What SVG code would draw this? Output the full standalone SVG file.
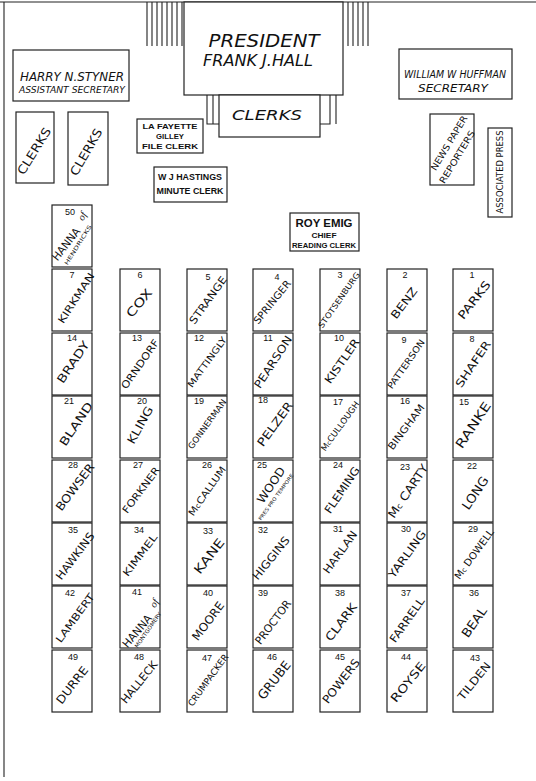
<svg xmlns="http://www.w3.org/2000/svg" width="536" height="781" viewBox="0 0 536 781">
<style>
.bx{fill:#fff;stroke:#222;stroke-width:1.2}
.ln{stroke:#222;stroke-width:1.1;fill:none}
.num{font-family:"Liberation Sans",Arial,sans-serif;font-size:9px;text-anchor:middle;fill:#111}
.nm{font-family:"DejaVu Sans","Liberation Sans",sans-serif;text-anchor:middle;fill:#111}
.it{font-family:"DejaVu Sans","Liberation Sans",sans-serif;font-style:italic;text-anchor:middle;fill:#111}
.lb{font-family:"Liberation Sans",Arial,sans-serif;font-weight:bold;text-anchor:middle;fill:#111}
.sc{font-family:"Liberation Serif",serif;font-style:italic;text-anchor:middle;fill:#111}
</style>
<rect width="536" height="781" fill="#fff"/>
<g id="frame" class="ln">
<line x1="0" y1="2" x2="536" y2="2"/>
<line x1="4" y1="2" x2="4" y2="777"/>
</g>
<g id="stripes" class="ln">
<path d="M147 2V46M152 2V46M157 2V46M162 2V46M167 2V46M172 2V46M177 2V46M182 2V46"/>
<path d="M348 2V46M353 2V46M358 2V46M363 2V46M368 2V46"/>
<path d="M207 95V124H219M213 95V124"/>
<path d="M330 95V124H320M336 95V124"/>
</g>
<g id="president">
<rect class="bx" x="184" y="2" width="159" height="93"/>
<text class="it" x="264" y="47" font-size="17" textLength="111" lengthAdjust="spacingAndGlyphs">PRESIDENT</text>
<text class="it" x="258" y="66" font-size="16" textLength="110" lengthAdjust="spacingAndGlyphs">FRANK J.HALL</text>
</g>
<g id="clerks-center">
<rect class="bx" x="219" y="95" width="101" height="42"/>
<text class="it" x="267" y="120" font-size="14" textLength="70" lengthAdjust="spacingAndGlyphs">CLERKS</text>
</g>
<g id="styner">
<rect class="bx" x="13" y="50" width="116" height="51"/>
<text class="it" x="72" y="81" font-size="12" textLength="104" lengthAdjust="spacingAndGlyphs">HARRY N.STYNER</text>
<text class="it" x="72" y="93" font-size="8.5" textLength="106" lengthAdjust="spacingAndGlyphs">ASSISTANT SECRETARY</text>
</g>
<g id="huffman">
<rect class="bx" x="399" y="49" width="113" height="50"/>
<text class="it" x="455" y="78" font-size="10" textLength="102" lengthAdjust="spacingAndGlyphs">WILLIAM W HUFFMAN</text>
<text class="it" x="453" y="92" font-size="10" textLength="70" lengthAdjust="spacingAndGlyphs">SECRETARY</text>
</g>
<g id="clerks-left-1">
<rect class="bx" x="16" y="112" width="38" height="71"/>
<text class="nm" transform="translate(34,151) rotate(-58)" dy="0.36em" font-size="12" textLength="53" lengthAdjust="spacingAndGlyphs">CLERKS</text>
</g>
<g id="clerks-left-2">
<rect class="bx" x="68" y="112" width="40" height="73"/>
<text class="nm" transform="translate(86,152) rotate(-60)" dy="0.36em" font-size="12" textLength="52" lengthAdjust="spacingAndGlyphs">CLERKS</text>
</g>
<g id="gilley">
<rect class="bx" x="137" y="119" width="66" height="34"/>
<text class="lb" x="170" y="129" font-size="8" textLength="55" lengthAdjust="spacingAndGlyphs">LA FAYETTE</text>
<text class="lb" x="170" y="139" font-size="8" textLength="28" lengthAdjust="spacingAndGlyphs">GILLEY</text>
<text class="lb" x="170" y="149" font-size="8" textLength="56" lengthAdjust="spacingAndGlyphs">FILE CLERK</text>
</g>
<g id="hastings">
<rect class="bx" x="154" y="167" width="73" height="35"/>
<text class="lb" x="190" y="180" font-size="9" textLength="64" lengthAdjust="spacingAndGlyphs">W J HASTINGS</text>
<text class="lb" x="190" y="194" font-size="9.5" textLength="67" lengthAdjust="spacingAndGlyphs">MINUTE CLERK</text>
</g>
<g id="emig">
<rect class="bx" x="290" y="213" width="69" height="38"/>
<text class="lb" x="324" y="227" font-size="10" textLength="57" lengthAdjust="spacingAndGlyphs">ROY EMIG</text>
<text class="lb" x="324" y="238" font-size="8" textLength="25" lengthAdjust="spacingAndGlyphs">CHIEF</text>
<text class="lb" x="324" y="248" font-size="8" textLength="64" lengthAdjust="spacingAndGlyphs">READING CLERK</text>
</g>
<g id="reporters">
<rect class="bx" x="430" y="114" width="44" height="71"/>
<text class="nm" transform="translate(449,143) rotate(-59)" dy="0.36em" font-size="9" textLength="62" lengthAdjust="spacingAndGlyphs">NEWS PAPER</text>
<text class="nm" transform="translate(457,157) rotate(-59)" dy="0.36em" font-size="9" textLength="60" lengthAdjust="spacingAndGlyphs">REPORTERS</text>
</g>
<g id="press">
<rect class="bx" x="488" y="128" width="24" height="89"/>
<text class="nm" transform="translate(500,172) rotate(-90)" dy="0.36em" font-size="8.5" textLength="83" lengthAdjust="spacingAndGlyphs">ASSOCIATED PRESS</text>
</g>
<g id="seat-50">
<rect class="bx" x="52" y="205" width="40" height="62"/>
<text class="num" x="70" y="215">50</text>
<text class="nm" transform="translate(66,244) rotate(-52)" dy="0.36em" font-size="11" textLength="38" lengthAdjust="spacingAndGlyphs">HANNA</text>
<text class="sc" transform="translate(82,216) rotate(-62)" dy="0.36em" font-size="10">of</text>
<text class="nm" transform="translate(78,245) rotate(-58)" dy="0.36em" font-size="5.5" textLength="46" lengthAdjust="spacingAndGlyphs">HENDRICKS</text>
</g>
<g id="seats">
<g id="seat-7"><rect class="bx" x="52" y="269" width="40" height="62"/><text class="num" x="72" y="278">7</text><text class="nm" transform="translate(76,298) rotate(-57)" dy="0.36em" font-size="10" textLength="58" lengthAdjust="spacingAndGlyphs">KIRKMAN</text></g>
<g id="seat-6"><rect class="bx" x="120" y="269" width="40" height="62"/><text class="num" x="140" y="278">6</text><text class="nm" transform="translate(139,303) rotate(-50)" dy="0.36em" font-size="12" textLength="33" lengthAdjust="spacingAndGlyphs">COX</text></g>
<g id="seat-5"><rect class="bx" x="187" y="269" width="40" height="62"/><text class="num" x="208" y="280">5</text><text class="nm" transform="translate(208,300) rotate(-54)" dy="0.36em" font-size="10.5" textLength="56" lengthAdjust="spacingAndGlyphs">STRANGE</text></g>
<g id="seat-4"><rect class="bx" x="253" y="269" width="40" height="62"/><text class="num" x="277" y="280">4</text><text class="nm" transform="translate(272,302) rotate(-51)" dy="0.36em" font-size="10" textLength="53" lengthAdjust="spacingAndGlyphs">SPRINGER</text></g>
<g id="seat-3"><rect class="bx" x="320" y="269" width="40" height="62"/><text class="num" x="340" y="278">3</text><text class="nm" transform="translate(339,300) rotate(-55)" dy="0.36em" font-size="8" textLength="66" lengthAdjust="spacingAndGlyphs">STOTSENBURG</text></g>
<g id="seat-2"><rect class="bx" x="387" y="269" width="40" height="62"/><text class="num" x="405" y="278">2</text><text class="nm" transform="translate(404,303) rotate(-53)" dy="0.36em" font-size="11" textLength="36" lengthAdjust="spacingAndGlyphs">BENZ</text></g>
<g id="seat-1"><rect class="bx" x="453" y="269" width="40" height="62"/><text class="num" x="472" y="278">1</text><text class="nm" transform="translate(474,300) rotate(-52)" dy="0.36em" font-size="11.5" textLength="45" lengthAdjust="spacingAndGlyphs">PARKS</text></g>
<g id="seat-14"><rect class="bx" x="52" y="333" width="40" height="62"/><text class="num" x="72" y="341">14</text><text class="nm" transform="translate(73,362) rotate(-56)" dy="0.36em" font-size="11.5" textLength="48" lengthAdjust="spacingAndGlyphs">BRADY</text></g>
<g id="seat-13"><rect class="bx" x="120" y="333" width="40" height="62"/><text class="num" x="137" y="341">13</text><text class="nm" transform="translate(140,364) rotate(-55)" dy="0.36em" font-size="10" textLength="58" lengthAdjust="spacingAndGlyphs">ORNDORF</text></g>
<g id="seat-12"><rect class="bx" x="187" y="333" width="40" height="62"/><text class="num" x="199" y="341">12</text><text class="nm" transform="translate(207,362) rotate(-54)" dy="0.36em" font-size="9" textLength="60" lengthAdjust="spacingAndGlyphs">MATTINGLY</text></g>
<g id="seat-11"><rect class="bx" x="253" y="333" width="40" height="62"/><text class="num" x="268" y="341">11</text><text class="nm" transform="translate(273,362) rotate(-57)" dy="0.36em" font-size="11" textLength="60" lengthAdjust="spacingAndGlyphs">PEARSON</text></g>
<g id="seat-10"><rect class="bx" x="320" y="333" width="40" height="62"/><text class="num" x="339" y="341">10</text><text class="nm" transform="translate(342,361) rotate(-55)" dy="0.36em" font-size="11" textLength="52" lengthAdjust="spacingAndGlyphs">KISTLER</text></g>
<g id="seat-9"><rect class="bx" x="387" y="333" width="40" height="62"/><text class="num" x="404" y="343">9</text><text class="nm" transform="translate(406,364) rotate(-55)" dy="0.36em" font-size="9" textLength="58" lengthAdjust="spacingAndGlyphs">PATTERSON</text></g>
<g id="seat-8"><rect class="bx" x="453" y="333" width="40" height="62"/><text class="num" x="472" y="342">8</text><text class="nm" transform="translate(473,364) rotate(-56)" dy="0.36em" font-size="11" textLength="54" lengthAdjust="spacingAndGlyphs">SHAFER</text></g>
<g id="seat-21"><rect class="bx" x="52" y="396" width="40" height="62"/><text class="num" x="69" y="404">21</text><text class="nm" transform="translate(76,424) rotate(-56)" dy="0.36em" font-size="11.5" textLength="50" lengthAdjust="spacingAndGlyphs">BLAND</text></g>
<g id="seat-20"><rect class="bx" x="120" y="396" width="40" height="62"/><text class="num" x="142" y="404">20</text><text class="nm" transform="translate(140,425) rotate(-61)" dy="0.36em" font-size="11.5" textLength="41" lengthAdjust="spacingAndGlyphs">KLING</text></g>
<g id="seat-19"><rect class="bx" x="187" y="396" width="40" height="62"/><text class="num" x="199" y="404">19</text><text class="nm" transform="translate(207,424) rotate(-54)" dy="0.36em" font-size="8.5" textLength="59" lengthAdjust="spacingAndGlyphs">GONNERMAN</text></g>
<g id="seat-18"><rect class="bx" x="253" y="396" width="40" height="62"/><text class="num" x="263" y="403">18</text><text class="nm" transform="translate(275,424) rotate(-54)" dy="0.36em" font-size="11.5" textLength="52" lengthAdjust="spacingAndGlyphs">PELZER</text></g>
<g id="seat-17"><rect class="bx" x="320" y="396" width="40" height="62"/><text class="num" x="338" y="405">17</text><text class="nm" transform="translate(340,426) rotate(-54)" dy="0.36em" font-size="8.5" textLength="59" lengthAdjust="spacingAndGlyphs">M<tspan font-size="6">c</tspan>CULLOUGH</text></g>
<g id="seat-16"><rect class="bx" x="387" y="396" width="40" height="62"/><text class="num" x="405" y="404">16</text><text class="nm" transform="translate(406,427) rotate(-53)" dy="0.36em" font-size="10" textLength="54" lengthAdjust="spacingAndGlyphs">BINGHAM</text></g>
<g id="seat-15"><rect class="bx" x="453" y="396" width="40" height="62"/><text class="num" x="464" y="405">15</text><text class="nm" transform="translate(473,425) rotate(-56)" dy="0.36em" font-size="12.5" textLength="53" lengthAdjust="spacingAndGlyphs">RANKE</text></g>
<g id="seat-28"><rect class="bx" x="52" y="460" width="40" height="62"/><text class="num" x="73" y="468">28</text><text class="nm" transform="translate(75,487) rotate(-53)" dy="0.36em" font-size="11.5" textLength="56" lengthAdjust="spacingAndGlyphs">BOWSER</text></g>
<g id="seat-27"><rect class="bx" x="120" y="460" width="40" height="62"/><text class="num" x="138" y="468">27</text><text class="nm" transform="translate(141,490) rotate(-53)" dy="0.36em" font-size="10" textLength="55" lengthAdjust="spacingAndGlyphs">FORKNER</text></g>
<g id="seat-26"><rect class="bx" x="187" y="460" width="40" height="62"/><text class="num" x="207" y="468">26</text><text class="nm" transform="translate(207,491) rotate(-55)" dy="0.36em" font-size="9.5" textLength="58" lengthAdjust="spacingAndGlyphs">M<tspan font-size="7">c</tspan>CALLUM</text></g>
<g id="seat-25"><rect class="bx" x="253" y="460" width="40" height="62"/><text class="num" x="262" y="468">25</text><text class="nm" transform="translate(271,485) rotate(-56)" dy="0.36em" font-size="11.5" textLength="41" lengthAdjust="spacingAndGlyphs">WOOD</text><text class="nm" transform="translate(276,497) rotate(-54)" dy="0.36em" font-size="5" textLength="56" lengthAdjust="spacingAndGlyphs">PRES PRO TEMPORE</text></g>
<g id="seat-24"><rect class="bx" x="320" y="460" width="40" height="62"/><text class="num" x="338" y="468">24</text><text class="nm" transform="translate(342,490) rotate(-56)" dy="0.36em" font-size="11" textLength="54" lengthAdjust="spacingAndGlyphs">FLEMING</text></g>
<g id="seat-23"><rect class="bx" x="387" y="460" width="40" height="62"/><text class="num" x="405" y="470">23</text><text class="nm" transform="translate(408,491) rotate(-56)" dy="0.36em" font-size="11.5" textLength="62" lengthAdjust="spacingAndGlyphs">M<tspan font-size="8">c</tspan> CARTY</text></g>
<g id="seat-22"><rect class="bx" x="453" y="460" width="40" height="62"/><text class="num" x="472" y="469">22</text><text class="nm" transform="translate(475,493) rotate(-56)" dy="0.36em" font-size="12.5" textLength="37" lengthAdjust="spacingAndGlyphs">LONG</text></g>
<g id="seat-35"><rect class="bx" x="52" y="523" width="40" height="62"/><text class="num" x="73" y="533">35</text><text class="nm" transform="translate(75,556) rotate(-53)" dy="0.36em" font-size="11" textLength="56" lengthAdjust="spacingAndGlyphs">HAWKINS</text></g>
<g id="seat-34"><rect class="bx" x="120" y="523" width="40" height="62"/><text class="num" x="139" y="533">34</text><text class="nm" transform="translate(140,555) rotate(-53)" dy="0.36em" font-size="10" textLength="50" lengthAdjust="spacingAndGlyphs">KIMMEL</text></g>
<g id="seat-33"><rect class="bx" x="187" y="523" width="40" height="62"/><text class="num" x="208" y="534">33</text><text class="nm" transform="translate(209,556) rotate(-52)" dy="0.36em" font-size="12.5" textLength="41" lengthAdjust="spacingAndGlyphs">KANE</text></g>
<g id="seat-32"><rect class="bx" x="253" y="523" width="40" height="62"/><text class="num" x="263" y="533">32</text><text class="nm" transform="translate(271,558) rotate(-51)" dy="0.36em" font-size="11" textLength="52" lengthAdjust="spacingAndGlyphs">HIGGINS</text></g>
<g id="seat-31"><rect class="bx" x="320" y="523" width="40" height="62"/><text class="num" x="338" y="532">31</text><text class="nm" transform="translate(340,552) rotate(-54)" dy="0.36em" font-size="11" textLength="50" lengthAdjust="spacingAndGlyphs">HARLAN</text></g>
<g id="seat-30"><rect class="bx" x="387" y="523" width="40" height="62"/><text class="num" x="406" y="532">30</text><text class="nm" transform="translate(407,554) rotate(-54)" dy="0.36em" font-size="11" textLength="56" lengthAdjust="spacingAndGlyphs">YARLING</text></g>
<g id="seat-29"><rect class="bx" x="453" y="523" width="40" height="62"/><text class="num" x="473" y="532">29</text><text class="nm" transform="translate(474,554) rotate(-54)" dy="0.36em" font-size="10" textLength="59" lengthAdjust="spacingAndGlyphs">M<tspan font-size="7">c</tspan> DOWELL</text></g>
<g id="seat-42"><rect class="bx" x="52" y="586" width="40" height="62"/><text class="num" x="70" y="596">42</text><text class="nm" transform="translate(75,618) rotate(-54)" dy="0.36em" font-size="10" textLength="58" lengthAdjust="spacingAndGlyphs">LAMBERT</text></g>
<g id="seat-41"><rect class="bx" x="120" y="586" width="40" height="62"/><text class="num" x="137" y="595">41</text><text class="nm" transform="translate(137,631) rotate(-50)" dy="0.36em" font-size="11" textLength="39" lengthAdjust="spacingAndGlyphs">HANNA</text><text class="sc" transform="translate(154,603) rotate(-62)" dy="0.36em" font-size="10">of</text><text class="nm" transform="translate(148,630) rotate(-55)" dy="0.36em" font-size="5.5" textLength="42" lengthAdjust="spacingAndGlyphs">MONTGOMERY</text></g>
<g id="seat-40"><rect class="bx" x="187" y="586" width="40" height="62"/><text class="num" x="208" y="596">40</text><text class="nm" transform="translate(208,621) rotate(-53)" dy="0.36em" font-size="11.5" textLength="45" lengthAdjust="spacingAndGlyphs">MOORE</text></g>
<g id="seat-39"><rect class="bx" x="253" y="586" width="40" height="62"/><text class="num" x="263" y="596">39</text><text class="nm" transform="translate(273,622) rotate(-53)" dy="0.36em" font-size="11" textLength="52" lengthAdjust="spacingAndGlyphs">PROCTOR</text></g>
<g id="seat-38"><rect class="bx" x="320" y="586" width="40" height="62"/><text class="num" x="340" y="596">38</text><text class="nm" transform="translate(341,622) rotate(-53)" dy="0.36em" font-size="11.5" textLength="44" lengthAdjust="spacingAndGlyphs">CLARK</text></g>
<g id="seat-37"><rect class="bx" x="387" y="586" width="40" height="62"/><text class="num" x="406" y="596">37</text><text class="nm" transform="translate(407,620) rotate(-55)" dy="0.36em" font-size="11" textLength="52" lengthAdjust="spacingAndGlyphs">FARRELL</text></g>
<g id="seat-36"><rect class="bx" x="453" y="586" width="40" height="62"/><text class="num" x="474" y="596">36</text><text class="nm" transform="translate(474,622) rotate(-55)" dy="0.36em" font-size="12.5" textLength="34" lengthAdjust="spacingAndGlyphs">BEAL</text></g>
<g id="seat-49"><rect class="bx" x="52" y="650" width="40" height="62"/><text class="num" x="73" y="660">49</text><text class="nm" transform="translate(72,685) rotate(-52)" dy="0.36em" font-size="11.5" textLength="44" lengthAdjust="spacingAndGlyphs">DURRE</text></g>
<g id="seat-48"><rect class="bx" x="120" y="650" width="40" height="62"/><text class="num" x="139" y="660">48</text><text class="nm" transform="translate(139,682) rotate(-51)" dy="0.36em" font-size="11" textLength="51" lengthAdjust="spacingAndGlyphs">HALLECK</text></g>
<g id="seat-47"><rect class="bx" x="187" y="650" width="40" height="62"/><text class="num" x="207" y="661">47</text><text class="nm" transform="translate(208,680) rotate(-54)" dy="0.36em" font-size="9" textLength="62" lengthAdjust="spacingAndGlyphs">CRUMPACKER</text></g>
<g id="seat-46"><rect class="bx" x="253" y="650" width="40" height="62"/><text class="num" x="272" y="660">46</text><text class="nm" transform="translate(274,680) rotate(-52)" dy="0.36em" font-size="12.5" textLength="45" lengthAdjust="spacingAndGlyphs">GRUBE</text></g>
<g id="seat-45"><rect class="bx" x="320" y="650" width="40" height="62"/><text class="num" x="340" y="660">45</text><text class="nm" transform="translate(341,681) rotate(-52)" dy="0.36em" font-size="11.5" textLength="53" lengthAdjust="spacingAndGlyphs">POWERS</text></g>
<g id="seat-44"><rect class="bx" x="387" y="650" width="40" height="62"/><text class="num" x="406" y="660">44</text><text class="nm" transform="translate(408,682) rotate(-51)" dy="0.36em" font-size="11.5" textLength="48" lengthAdjust="spacingAndGlyphs">ROYSE</text></g>
<g id="seat-43"><rect class="bx" x="453" y="650" width="40" height="62"/><text class="num" x="475" y="661">43</text><text class="nm" transform="translate(474,681) rotate(-51)" dy="0.36em" font-size="11" textLength="45" lengthAdjust="spacingAndGlyphs">TILDEN</text></g>
</g>
</svg>
